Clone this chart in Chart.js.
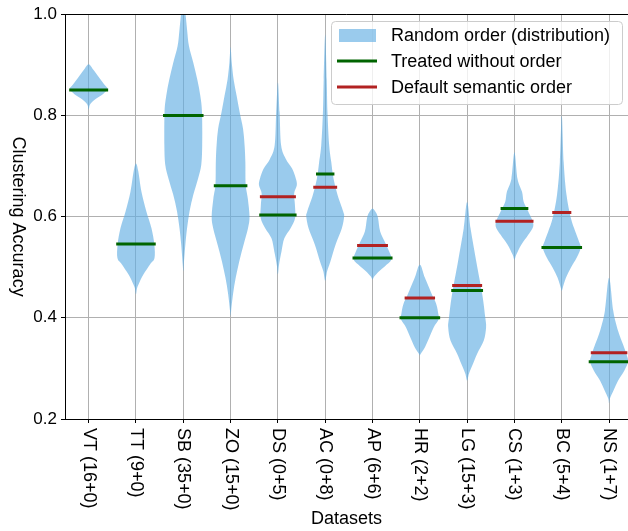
<!DOCTYPE html>
<html>
<head>
<meta charset="utf-8">
<script src="https://cdn.jsdelivr.net/npm/chart.js@4.4.0/dist/chart.umd.min.js"></script>
<style>
html,body{margin:0;padding:0;background:#fff;}
#wrap{width:628px;height:531px;}
</style>
</head>
<body>
<div id="wrap"><canvas id="chart" width="628" height="531"></canvas></div>
<script>
//=====================================================
// DATA
//=====================================================

const datasetNames=["VT (16+0)","TT (9+0)","SB (35+0)","ZO (15+0)","DS (0+5)","AC (0+8)","AP (6+6)","HR (2+2)","LG (15+3)","CS (1+3)","BC (5+4)","NS (1+7)"];

const treated=[0.850,0.546,0.800,0.661,0.603,0.684,0.518,0.400,0.454,0.616,0.539,0.313];

const semantic=[null,null,null,null,0.639,0.658,0.543,0.439,0.464,0.591,0.608,0.331];

// violin outline: accuracy levels and relative half-width (1 = widest)
const violinLevels=[
[0.812,0.822,0.832,0.842,0.852,0.860,0.875,0.890,0.901],
[0.447,0.459,0.469,0.486,0.506,0.518,0.545,0.577,0.610,0.649,0.690,0.705],
[0.492,0.506,0.545,0.577,0.610,0.643,0.675,0.702,0.741,0.806,0.839,0.871,0.904,0.937,0.970,1.000,1.030],
[0.404,0.414,0.447,0.479,0.512,0.545,0.577,0.600,0.636,0.663,0.708,0.741,0.773,0.806,0.839,0.871,0.905,0.935],
[0.486,0.505,0.531,0.557,0.577,0.597,0.623,0.646,0.662,0.675,0.695,0.714,0.741,0.806,0.865],
[0.473,0.492,0.512,0.545,0.577,0.600,0.610,0.643,0.675,0.708,0.741,0.806,0.871,0.960],
[0.476,0.482,0.492,0.502,0.515,0.531,0.551,0.571,0.597,0.608,0.616],
[0.326,0.329,0.342,0.361,0.381,0.397,0.407,0.427,0.446,0.479,0.505],
[0.276,0.290,0.309,0.329,0.355,0.381,0.400,0.446,0.512,0.577,0.629],
[0.515,0.525,0.545,0.564,0.584,0.610,0.629,0.649,0.675,0.727],
[0.453,0.459,0.479,0.499,0.518,0.538,0.551,0.571,0.597,0.643,0.708,0.800],
[0.231,0.241,0.257,0.276,0.296,0.312,0.322,0.348,0.375,0.414,0.479]
];

const violinWidths=[
[0,0.08,0.35,0.75,1.0,0.85,0.55,0.25,0],
[0,0.06,0.17,0.40,0.75,0.98,0.97,0.82,0.55,0.29,0.12,0],
[0,0.03,0.11,0.20,0.33,0.53,0.78,0.95,1.0,0.99,0.90,0.74,0.53,0.30,0.20,0.12,0],
[0,0.03,0.13,0.27,0.46,0.69,0.92,1.0,0.91,0.80,0.78,0.74,0.66,0.48,0.32,0.16,0.06,0],
[0,0.06,0.19,0.34,0.67,0.91,0.90,0.86,1.0,0.95,0.75,0.42,0.17,0.09,0],
[0,0.10,0.28,0.55,0.88,1.0,0.95,0.65,0.44,0.32,0.21,0.12,0.08,0],
[0,0.10,0.35,0.66,1.0,0.88,0.64,0.40,0.29,0.18,0],
[0,0.05,0.27,0.50,0.73,1.0,0.98,0.87,0.64,0.27,0],
[0,0.10,0.31,0.53,0.88,1.0,0.96,0.80,0.48,0.18,0],
[0,0.10,0.37,0.73,1.0,0.73,0.49,0.40,0.16,0],
[0,0.05,0.22,0.48,0.78,1.0,0.91,0.71,0.48,0.25,0.10,0],
[0,0.05,0.24,0.48,0.81,1.0,0.97,0.73,0.47,0.22,0]
];

const legendLabels=["Random order (distribution)","Treated without order","Default semantic order"];

//=====================================================
// STYLE
//=====================================================

const FONT='"Liberation Sans", Arial, sans-serif';
const violinColor="rgba(100,175,228,0.65)";
const verde="#006400";
const rojo="#b22222";
const gris="#b0b0b0";

// half-width of a violin at a given accuracy, in pixels
function halfWidth(chart,i,v){
const x=chart.scales.x;
const H=0.4*(x.getPixelForValue(1)-x.getPixelForValue(0));
const lv=violinLevels[i],wd=violinWidths[i];
let w=0;
for(let k=0;k<lv.length-1;k++){
if(v>=lv[k]&&v<=lv[k+1]){w=wd[k]+(wd[k+1]-wd[k])*(v-lv[k])/(lv[k+1]-lv[k]);break;}
}
return w*H+1.5;
}

//=====================================================
// PLUGIN: violins, rotated labels, legend
//=====================================================

const violinPlugin={

id:"violins",

beforeDatasetsDraw(chart){
const {ctx,chartArea:a,scales:{x,y}}=chart;
const H=0.4*(x.getPixelForValue(1)-x.getPixelForValue(0));
ctx.save();
ctx.beginPath();
ctx.rect(a.left,a.top,a.right-a.left,a.bottom-a.top);
ctx.clip();
ctx.fillStyle=violinColor;
violinLevels.forEach((lv,i)=>{
const cx=x.getPixelForValue(i);
const wd=violinWidths[i];
const pts=[];
lv.forEach((v,k)=>pts.push([cx+wd[k]*H,y.getPixelForValue(v)]));
for(let k=lv.length-2;k>0;k--)pts.push([cx-wd[k]*H,y.getPixelForValue(lv[k])]);
const n=pts.length;
ctx.beginPath();
ctx.moveTo(pts[0][0],pts[0][1]);
for(let k=0;k<n;k++){
const p0=pts[(k-1+n)%n],p1=pts[k],p2=pts[(k+1)%n],p3=pts[(k+2)%n];
ctx.bezierCurveTo(
p1[0]+(p2[0]-p0[0])/6,p1[1]+(p2[1]-p0[1])/6,
p2[0]-(p3[0]-p1[0])/6,p2[1]-(p3[1]-p1[1])/6,
p2[0],p2[1]);
}
ctx.closePath();
ctx.fill();
});
ctx.restore();
},

afterDraw(chart){
const {ctx,chartArea:a,scales:{x}}=chart;
ctx.save();

// top spine
ctx.strokeStyle="#000";
ctx.lineWidth=1;
ctx.beginPath();
ctx.moveTo(a.left,Math.round(a.top)+0.5);
ctx.lineTo(a.right,Math.round(a.top)+0.5);
ctx.stroke();

// x tick labels, turned clockwise
ctx.fillStyle="#000";
ctx.font="18px "+FONT;
ctx.textAlign="left";
ctx.textBaseline="middle";
datasetNames.forEach((n,i)=>{
ctx.save();
ctx.translate(x.getPixelForValue(i),a.bottom+9);
ctx.rotate(Math.PI/2);
ctx.fillText(n,0,0);
ctx.restore();
});

// y title, turned clockwise
ctx.save();
ctx.translate(17.5,(a.top+a.bottom)/2);
ctx.rotate(Math.PI/2);
ctx.textAlign="center";
ctx.fillText("Clustering Accuracy",0,0);
ctx.restore();

// legend
const lx=331,ly=21,lw=291,lh=83;
ctx.beginPath();
ctx.roundRect(lx+0.5,ly+0.5,lw,lh,4);
ctx.fillStyle="rgba(255,255,255,0.8)";
ctx.fill();
ctx.strokeStyle="#cccccc";
ctx.stroke();

ctx.fillStyle=violinColor;
ctx.fillRect(lx+8,ly+8,37,13);
ctx.lineWidth=3;
[verde,rojo].forEach((c,k)=>{
ctx.strokeStyle=c;
ctx.beginPath();
ctx.moveTo(lx+6,ly+40+26*k);
ctx.lineTo(lx+46,ly+40+26*k);
ctx.stroke();
});
ctx.fillStyle="#000";
ctx.textAlign="left";
legendLabels.forEach((t,k)=>ctx.fillText(t,lx+60,ly+15+26*k));

ctx.restore();
}

};

//=====================================================
// CHART
//=====================================================

function lineDataset(label,values,color){
return{
label:label,
data:values.map((v,i)=>v==null?null:{x:i,y:v}).filter(Boolean),
pointStyle:"line",
borderColor:color,
backgroundColor:color,
pointBorderWidth:3,
pointRadius:c=>halfWidth(c.chart,c.raw.x,c.raw.y),
pointHoverRadius:c=>halfWidth(c.chart,c.raw.x,c.raw.y),
showLine:false
};
}

new Chart(document.getElementById("chart"),{

type:"scatter",

data:{
datasets:[
lineDataset(legendLabels[1],treated,verde),
lineDataset(legendLabels[2],semantic,rojo)
]
},

plugins:[violinPlugin],

options:{
responsive:false,
animation:false,
events:[],
layout:{padding:{top:11,right:0,left:0,bottom:0}},
plugins:{
legend:{display:false},
tooltip:{enabled:false}
},
scales:{
x:{
type:"linear",
min:-0.5,
max:11.4,
afterBuildTicks:s=>{s.ticks=datasetNames.map((n,i)=>({value:i}));},
afterFit:s=>{s.height=112;},
ticks:{display:false},
grid:{color:gris,tickColor:"#000",tickLength:4,lineWidth:1},
border:{color:"#000",width:1},
title:{display:true,text:"Datasets",color:"#000",font:{family:FONT,size:18},padding:{top:0,bottom:1}}
},
y:{
min:0.2,
max:1.0,
afterFit:s=>{s.width=65;},
ticks:{stepSize:0.2,color:"#000",font:{family:FONT,size:17},padding:4,callback:v=>v.toFixed(1)},
grid:{color:gris,tickColor:"#000",tickLength:4,lineWidth:1},
border:{color:"#000",width:1}
}
}
}

});
</script>
</body>
</html>
